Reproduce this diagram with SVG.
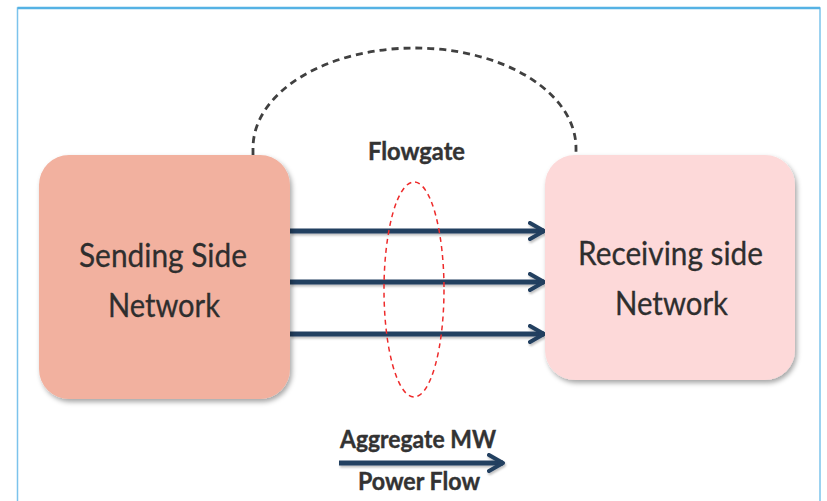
<svg xmlns="http://www.w3.org/2000/svg" width="827" height="501" viewBox="0 0 827 501">
  <defs>
    <filter id="shadow" x="-10%" y="-10%" width="125%" height="125%">
      <feDropShadow dx="2" dy="3" stdDeviation="2.5" flood-color="#000" flood-opacity="0.35"/>
    </filter>
    <filter id="lineShadow" filterUnits="userSpaceOnUse" x="0" y="0" width="827" height="501">
      <feDropShadow dx="1" dy="2" stdDeviation="1.2" flood-color="#000" flood-opacity="0.25"/>
    </filter>
    <marker id="chevron" viewBox="0 0 10 10" refX="8" refY="5" markerWidth="4" markerHeight="4" markerUnits="strokeWidth" orient="auto">
      <path d="M1,1 L8,5 L1,9" fill="none" stroke="#243f60" stroke-width="2" stroke-linecap="round" stroke-linejoin="round"/>
    </marker>
    <style>
      .frame { fill: none; stroke: #7cc3ec; stroke-width: 1.5; }
      .node-text { font-family: Lato, "Open Sans", "Liberation Sans", sans-serif; font-size: 33px; fill: #2e2e2e; text-anchor: middle; stroke: #2e2e2e; stroke-width: 0.3; }
      .label { font-family: Lato, "Open Sans", "Liberation Sans", sans-serif; font-weight: bold; font-size: 25px; fill: #333333; text-anchor: middle; stroke: #333333; stroke-width: 0.4; }
      .flow { stroke: #243f60; stroke-width: 5; fill: none; marker-end: url(#chevron); }
    </style>
  </defs>

  <rect width="827" height="501" fill="#ffffff"/>

  <!-- outer frame, open at the bottom -->
  <path class="frame" d="M17.5,501 L17.5,8 L820,8 L820,501"/>
  <line x1="17.5" y1="8" x2="820" y2="8" stroke="#55b2e4" stroke-width="2.5"/>

  <g id="connectors">
    <!-- return path over the top -->
    <path d="M253,155 L253,148 A161.5,100 0 0 1 576,148 L576,155" fill="none" stroke="#404040" stroke-width="2.8" stroke-dasharray="7,5"/>
    <g filter="url(#lineShadow)">
      <line class="flow" x1="290" y1="231" x2="544" y2="231"/>
      <line class="flow" x1="290" y1="282" x2="544" y2="282"/>
      <line class="flow" x1="290" y1="334" x2="544" y2="334"/>
    </g>
  </g>

  <g id="sending">
    <rect x="39" y="155" width="251" height="244" rx="30" fill="#f2b19f" filter="url(#shadow)"/>
    <text class="node-text" x="163" y="267" textLength="168" lengthAdjust="spacingAndGlyphs">Sending Side</text>
    <text class="node-text" x="164" y="317" textLength="112" lengthAdjust="spacingAndGlyphs">Network</text>
  </g>

  <g id="receiving">
    <rect x="545" y="155" width="250" height="225" rx="30" fill="#fdd9d9" filter="url(#shadow)"/>
    <text class="node-text" x="670.5" y="265" textLength="185" lengthAdjust="spacingAndGlyphs">Receiving side</text>
    <text class="node-text" x="671.5" y="315" textLength="113" lengthAdjust="spacingAndGlyphs">Network</text>
  </g>

  <g id="flowgate">
    <ellipse cx="414" cy="289.5" rx="30" ry="107.5" fill="none" stroke="#ee2b2b" stroke-width="1.5" stroke-dasharray="5,4"/>
    <text class="label" x="416.5" y="160" textLength="97" lengthAdjust="spacingAndGlyphs">Flowgate</text>
  </g>

  <g id="aggregate">
    <text class="label" x="418" y="448" textLength="156" lengthAdjust="spacingAndGlyphs">Aggregate MW</text>
    <g filter="url(#lineShadow)">
      <line class="flow" x1="339" y1="463" x2="503" y2="463"/>
    </g>
    <text class="label" x="419" y="490" textLength="122" lengthAdjust="spacingAndGlyphs">Power Flow</text>
  </g>
</svg>
